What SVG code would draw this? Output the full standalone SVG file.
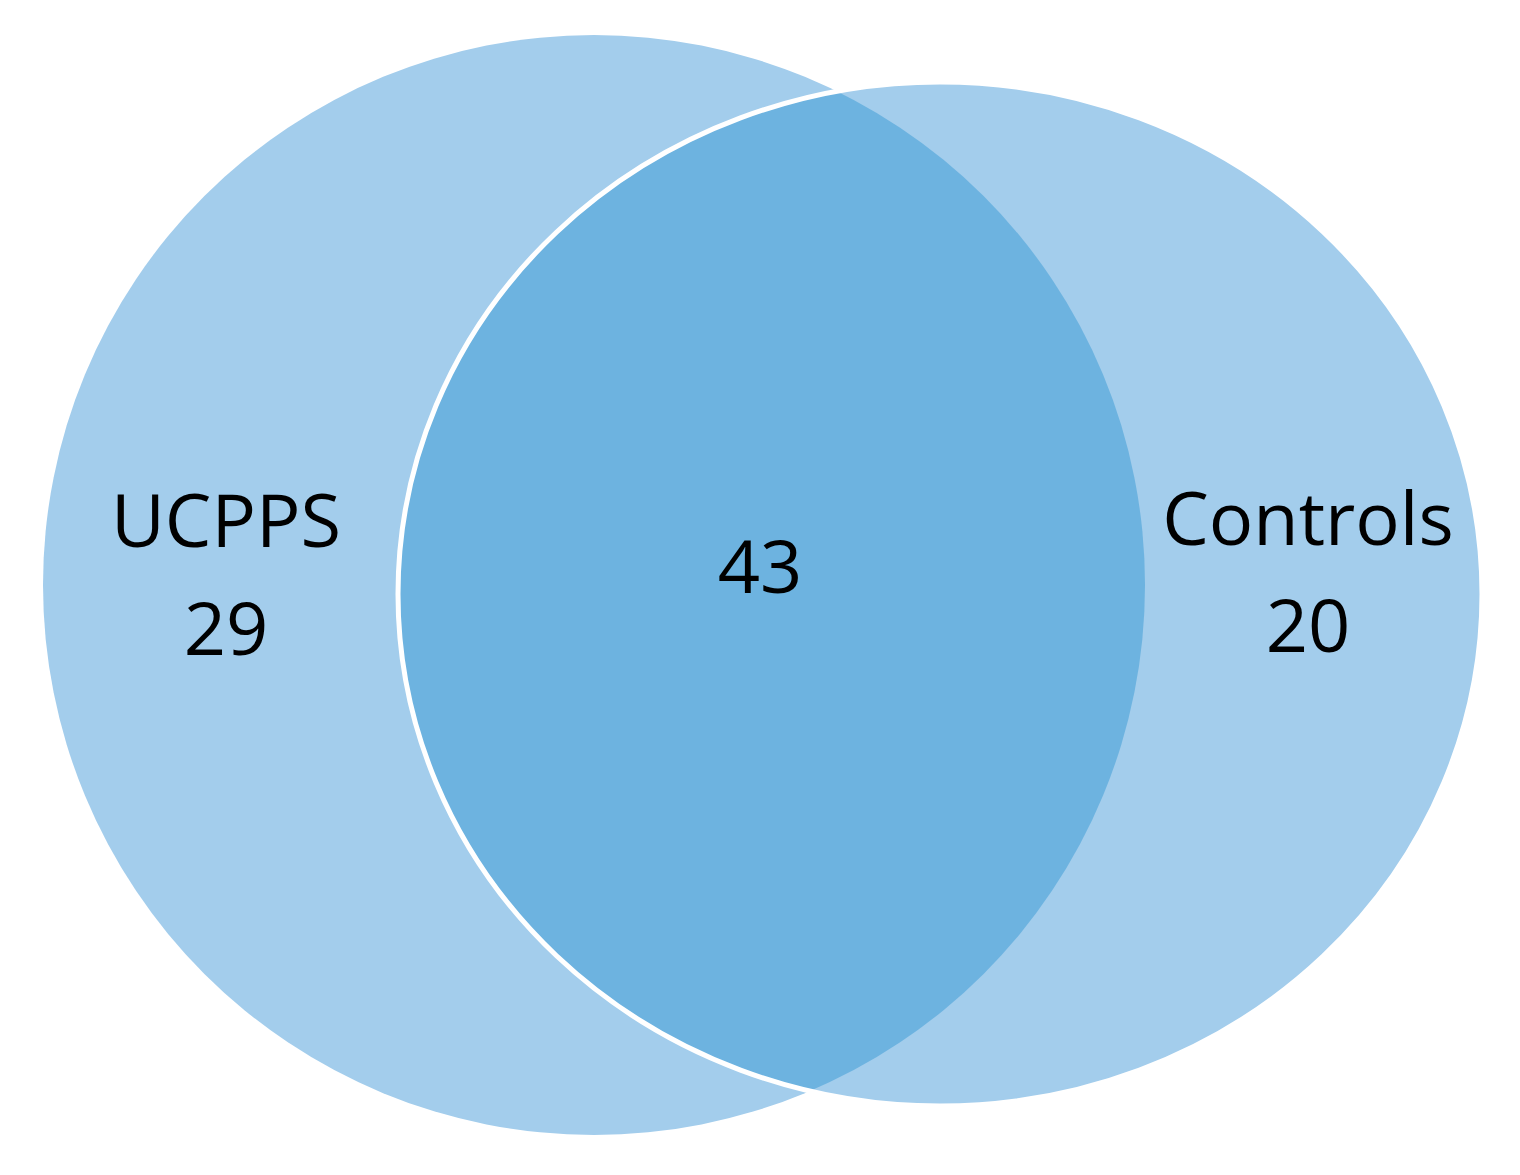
<svg xmlns="http://www.w3.org/2000/svg" width="1520" height="1175" viewBox="0 0 1520 1175">
<defs>
<style>
.lbl{font-family:"Open Sans","Liberation Sans",sans-serif;font-size:74px;fill:#000;text-anchor:middle}
.set{fill:#A3CDEC}
</style>
<clipPath id="clipL"><ellipse cx="594" cy="585" rx="551" ry="550"/></clipPath>
</defs>
<rect width="1520" height="1175" fill="#fff"/>
<g id="ucpps">
<ellipse class="set" cx="594" cy="585" rx="551" ry="550"/>
</g>
<g id="controls">
<ellipse class="set" cx="940" cy="594" rx="542" ry="512"/>
<ellipse cx="940" cy="594" rx="542" ry="512" fill="#6DB3E0" clip-path="url(#clipL)"/>
<ellipse cx="940" cy="594" rx="542" ry="512" fill="none" stroke="#fff" stroke-width="5"/>
</g>
<g id="labels">
<text class="lbl" x="226" y="547">UCPPS</text>
<text class="lbl" x="226" y="655">29</text>
<text class="lbl" x="760" y="593">43</text>
<text class="lbl" x="1308" y="545">Controls</text>
<text class="lbl" x="1308" y="652">20</text>
</g>
</svg>
